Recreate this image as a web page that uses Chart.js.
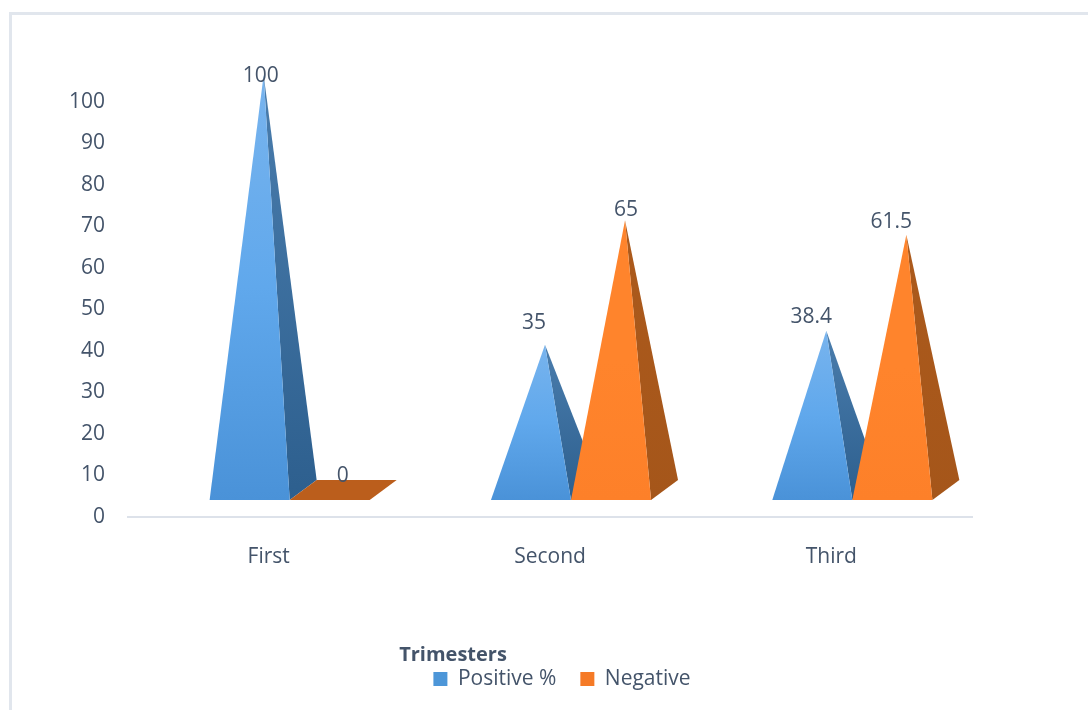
<!DOCTYPE html>
<html>
<head>
<meta charset="utf-8">
<title>Trimesters</title>
<script src="https://cdn.jsdelivr.net/npm/chart.js@4/dist/chart.umd.min.js"></script>
<style>
  html, body { margin: 0; padding: 0; background: #fff; overflow: hidden; }
  #frame { position: absolute; left: 9px; top: 12px; right: 0; bottom: 0; border-left: 3px solid #e1e6ed; border-top: 3px solid #e1e6ed; }
  #wrap { position: absolute; left: 0; top: 0; width: 1088px; height: 710px; }
</style>
</head>
<body>
<div id="frame"></div>
<div id="wrap"><canvas id="chart"></canvas></div>
<script>
const categories = ['First', 'Second', 'Third'];
const positive = [100, 35, 38.4];
const negative = [0, 65, 61.5];
const yTicks = [0, 10, 20, 30, 40, 50, 60, 70, 80, 90, 100];

const FONT = '"Open Sans", "Noto Sans", sans-serif';
const TEXT = '#44546a';

// look of each series: front gradient, side face, flat face when the value is 0
const faces = [
  { front: ['#78b4ee', '#60a8ec', '#4a92d8'], side: ['#4a7dad', '#2d5f8e'], flat: '#2d5f8e' },
  { front: ['#ff842c', '#ff842c', '#fd8029'], side: ['#ac5a1c', '#a5561a'], flat: '#bb5e1c' }
];

// the labels were moved by hand in the original, so each has its own nudge from the bar top
const labelNudge = [
  [[32, -26], [24, -49], [20, -41]],
  [[34, -41], [36, -37], [20, -40]]
];

// 3D look of the pyramids
const SHIFT_X = 21, FLOOR_UP = 17, DEPTH_X = 27, DEPTH_Y = 20, TIP_UP = 27, TIP_X = 14;

function poly(ctx, pts, fill) {
  ctx.beginPath();
  pts.forEach((p, i) => i ? ctx.lineTo(p[0], p[1]) : ctx.moveTo(p[0], p[1]));
  ctx.closePath();
  ctx.fillStyle = fill;
  ctx.fill();
}

function vGradient(ctx, y0, y1, stops) {
  const g = ctx.createLinearGradient(0, y0, 0, y1);
  stops.forEach((c, i) => g.addColorStop(i / (stops.length - 1), c));
  return g;
}

class PyramidController extends Chart.BarController {
  draw() {
    // chart.js paints the last dataset first, but orange has to sit over blue
    if (this.index !== 0) return;
    const chart = this.chart;
    const ctx = chart.ctx;
    const metas = chart.data.datasets.map((d, i) => chart.getDatasetMeta(i));

    metas.forEach((meta, s) => {
      const look = faces[s];
      meta.data.forEach((el, i) => {
        const left = el.x - el.width / 2 + SHIFT_X;
        const right = left + el.width;
        const floor = el.base - FLOOR_UP;
        const back = [right + DEPTH_X, floor - DEPTH_Y];
        if (chart.data.datasets[s].data[i] === 0) {
          poly(ctx, [[left, floor], [right, floor], back, [left + DEPTH_X, floor - DEPTH_Y]], look.flat);
          return;
        }
        const tip = [left + el.width / 2 + TIP_X, el.y - TIP_UP];
        poly(ctx, [[right, floor], back, tip], vGradient(ctx, tip[1], floor, look.side));
        poly(ctx, [[left, floor], [right, floor], tip], vGradient(ctx, tip[1], floor, look.front));
      });
    });

    ctx.save();
    ctx.font = '21px ' + FONT;
    ctx.fillStyle = TEXT;
    ctx.textAlign = 'center';
    ctx.textBaseline = 'middle';
    metas.forEach((meta, s) => {
      meta.data.forEach((el, i) => {
        const n = labelNudge[s][i];
        ctx.fillText(String(chart.data.datasets[s].data[i]), el.x + n[0], el.y + n[1]);
      });
    });
    ctx.restore();
  }
}
PyramidController.id = 'pyramid';
PyramidController.defaults = Chart.BarController.defaults;
Chart.register(PyramidController);

// legend and the "Trimesters" caption sit off-centre in the original
const placeLegend = {
  id: 'placeLegend',
  afterLayout(chart) {
    const lg = chart.legend;
    const h = lg.bottom - lg.top;
    lg.left += 12; lg.right += 12;
    lg.top = 672 - h / 2; lg.bottom = lg.top + h;
  },
  afterDraw(chart) {
    const ctx = chart.ctx;
    ctx.save();
    ctx.font = 'bold 20px ' + FONT;
    ctx.fillStyle = TEXT;
    ctx.textAlign = 'center';
    ctx.textBaseline = 'middle';
    ctx.fillText('Trimesters', 453, 655);
    ctx.restore();
  }
};

new Chart(document.getElementById('chart'), {
  type: 'pyramid',
  plugins: [placeLegend],
  data: {
    labels: categories,
    datasets: [
      { label: 'Positive %', data: positive, backgroundColor: '#4d96d8', borderWidth: 0, clip: false },
      { label: 'Negative', data: negative, backgroundColor: '#f57a26', borderWidth: 0, clip: false }
    ]
  },
  options: {
    responsive: true,
    maintainAspectRatio: false,
    animation: false,
    layout: { padding: { top: 102, right: 116, left: 0, bottom: 0 } },
    categoryPercentage: 0.569,
    barPercentage: 1,
    plugins: {
      tooltip: { enabled: false },
      legend: {
        position: 'bottom',
        fullSize: false,
        labels: { color: TEXT, boxWidth: 14, boxHeight: 14, padding: 24, font: { family: FONT, size: 21 } }
      }
    },
    scales: {
      x: {
        grid: { display: false, drawTicks: false },
        border: { color: '#dde2ea', width: 2 },
        ticks: { color: TEXT, padding: 27, font: { family: FONT, size: 21 } },
        afterFit(scale) { scale.height = 138; }
      },
      y: {
        min: 0,
        max: 100,
        afterBuildTicks(scale) { scale.ticks = yTicks.map(v => ({ value: v })); },
        grid: { display: false, drawTicks: false },
        border: { display: false },
        ticks: { color: TEXT, padding: 23, font: { family: FONT, size: 21 } },
        afterFit(scale) { scale.width = 128; }
      }
    }
  }
});
</script>
</body>
</html>
